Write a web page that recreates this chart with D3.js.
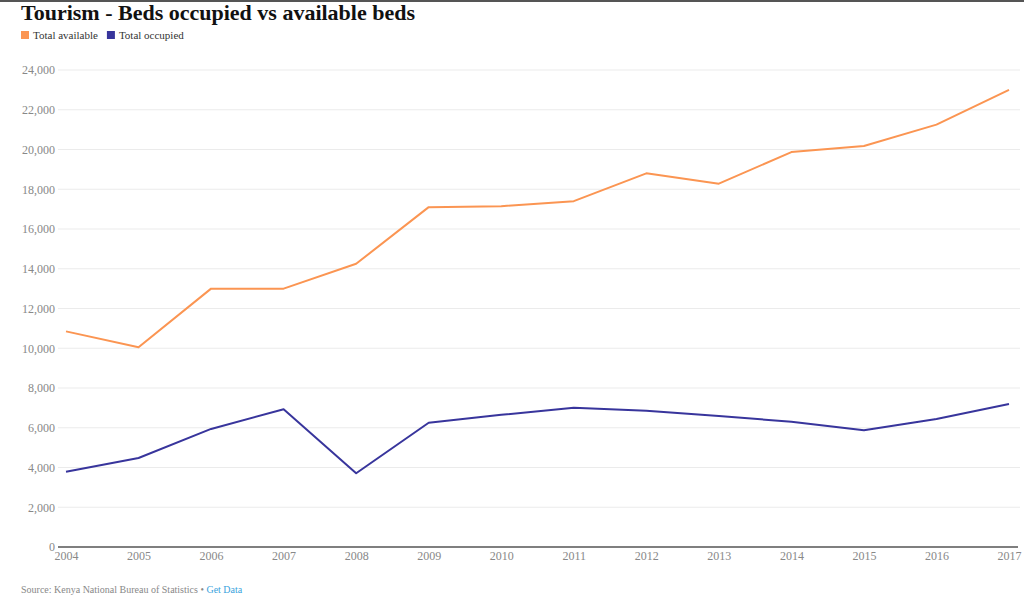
<!DOCTYPE html>
<html>
<head>
<meta charset="utf-8">
<script src="https://cdn.jsdelivr.net/npm/d3@7"></script>
<style>
  html, body { margin: 0; padding: 0; background: #fff; }
  svg { display: block; }
</style>
</head>
<body>
<svg id="chart" width="1024" height="598"></svg>
<script>
const years = [2004, 2005, 2006, 2007, 2008, 2009, 2010, 2011, 2012, 2013, 2014, 2015, 2016, 2017];
const totalAvailable = [10850, 10050, 13000, 13000, 14250, 17100, 17150, 17400, 18800, 18280, 19870, 20180, 21250, 23000];
const totalOccupied = [3790, 4480, 5940, 6930, 3710, 6250, 6650, 7010, 6860, 6590, 6300, 5870, 6440, 7200];
const yTicks = [0, 2000, 4000, 6000, 8000, 10000, 12000, 14000, 16000, 18000, 20000, 22000, 24000];
const seriesNames = ["Total available", "Total occupied"];
const seriesColors = ["#fb9552", "#38359c"];

const FONT = "Georgia, 'Liberation Serif', 'DejaVu Serif', serif";
const svg = d3.select("#chart");
const W = 1024, H = 598;

// top border
svg.append("rect").attr("x", 0).attr("y", 0).attr("width", W).attr("height", 2).attr("fill", "#555");

// title
svg.append("text").attr("x", 21).attr("y", 19.5)
  .attr("font-family", FONT).attr("font-weight", "bold").attr("font-size", 22)
  .attr("fill", "#111").text("Tourism - Beds occupied vs available beds");

// legend
const legend = svg.append("g").attr("transform", "translate(21,31)");
let lx = 0;
seriesNames.forEach((n, i) => {
  const g = legend.append("g").attr("transform", `translate(${lx},0)`);
  g.append("rect").attr("width", 8).attr("height", 8).attr("fill", seriesColors[i]);
  const t = g.append("text").attr("x", 12).attr("y", 8)
    .attr("font-family", FONT).attr("font-size", 11).attr("fill", "#333").text(n);
  lx += 12 + t.node().getComputedTextLength() + 9;
});

const x = d3.scaleLinear().domain([2004, 2017]).range([66, 1009]);
const y = d3.scaleLinear().domain([0, 24000]).range([547, 70]);

// grid
const grid = svg.append("g");
grid.selectAll("line").data(yTicks.filter(d => d > 0)).join("line")
  .attr("x1", 58).attr("x2", 1020)
  .attr("y1", d => y(d)).attr("y2", d => y(d))
  .attr("stroke", "#ebebeb").attr("stroke-width", 1);

// y axis
const yAxis = svg.append("g").attr("transform", "translate(55,0)")
  .call(d3.axisLeft(y).tickValues(yTicks).tickSize(0).tickPadding(0).tickFormat(d3.format(",")));
yAxis.select(".domain").remove();
yAxis.selectAll("text").attr("font-family", FONT).attr("font-size", 12).attr("fill", "#888");

// x axis
const xAxis = svg.append("g").attr("transform", "translate(0,547)")
  .call(d3.axisBottom(x).tickValues(years).tickSize(0).tickPadding(4).tickFormat(d3.format("d")));
xAxis.select(".domain").remove();
xAxis.selectAll("text").attr("font-family", FONT).attr("font-size", 12).attr("fill", "#888");
svg.append("line").attr("x1", 58).attr("x2", 1018).attr("y1", 547).attr("y2", 547)
  .attr("stroke", "#555").attr("stroke-width", 1.5);

// lines
const line = d3.line().x((d, i) => x(years[i])).y(d => y(d));
[totalAvailable, totalOccupied].forEach((s, i) => {
  svg.append("path").datum(s).attr("d", line)
    .attr("fill", "none").attr("stroke", seriesColors[i]).attr("stroke-width", 2)
    .attr("stroke-linejoin", "round");
});

// footer
const foot = svg.append("text").attr("x", 21).attr("y", 593)
  .attr("font-family", FONT).attr("font-size", 10).attr("fill", "#888");
foot.append("tspan").text("Source: Kenya National Bureau of Statistics • ");
foot.append("tspan").attr("fill", "#3aa3dd").text("Get Data");
</script>
</body>
</html>
